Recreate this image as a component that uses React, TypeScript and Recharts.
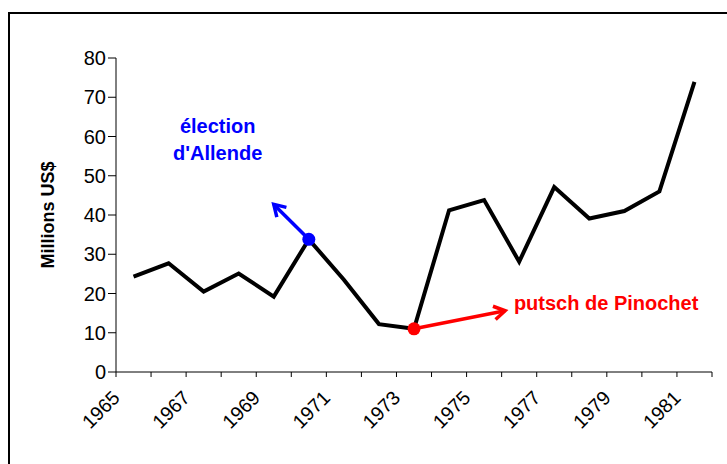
import React from 'react'
import { LineChart, Line, XAxis, YAxis, ReferenceDot, ReferenceLine } from 'recharts'

const years = [1965, 1966, 1967, 1968, 1969, 1970, 1971, 1972, 1973, 1974, 1975, 1976, 1977, 1978, 1979, 1980, 1981]
const aid = [24.3, 27.7, 20.5, 25.1, 19.2, 33.8, 23.5, 12.2, 11.0, 41.2, 43.8, 28.1, 47.1, 39.1, 41.0, 46.0, 73.9]
const yTicks = [0, 10, 20, 30, 40, 50, 60, 70, 80]
const labelYears = [1965, 1967, 1969, 1971, 1973, 1975, 1977, 1979, 1981]

const data = years.map((year, i) => ({ year, value: aid[i] }))
// Excel style: ticks sit between categories
const xTicks = years.map((y) => y - 0.5).concat(years[years.length - 1] + 0.5)

const FONT = '"Liberation Sans", Arial, sans-serif'
const BLUE = '#0000ff'
const RED = '#ff0000'

function YearTick({ x, y, payload }: any) {
  const year = payload.value + 0.5
  if (!labelYears.includes(year)) return null
  return (
    <text
      x={x + 5}
      y={y + 20}
      textAnchor="end"
      fontSize={19.5}
      fontFamily={FONT}
      fill="#000"
      transform={`rotate(-45 ${x + 5} ${y + 20})`}
    >
      {year}
    </text>
  )
}

function arrow(color: string) {
  return (p: any) => {
    const { x1, y1, x2, y2 } = p
    const a = Math.atan2(y2 - y1, x2 - x1)
    const len = 13
    const spread = 0.55
    const ax = x2 - len * Math.cos(a - spread)
    const ay = y2 - len * Math.sin(a - spread)
    const bx = x2 - len * Math.cos(a + spread)
    const by = y2 - len * Math.sin(a + spread)
    return (
      <g>
        <line x1={x1} y1={y1} x2={x2} y2={y2} stroke={color} strokeWidth={3.5} />
        <path d={`M${ax},${ay} L${x2},${y2} L${bx},${by}`} fill="none" stroke={color} strokeWidth={3.5} />
      </g>
    )
  }
}

function textShape(lines: string[], color: string, anchor: 'start' | 'middle') {
  return (p: any) => (
    <text x={p.cx} y={p.cy} textAnchor={anchor} fontSize={20} fontWeight="bold" fontFamily={FONT} fill={color}>
      {lines.map((l, i) => (
        <tspan key={i} x={p.cx} dy={i === 0 ? 0 : 27}>
          {l}
        </tspan>
      ))}
    </text>
  )
}

export default function App() {
  return (
    <div style={{ position: 'fixed', left: 0, top: 0, width: 727, height: 464, overflow: 'hidden', background: '#fff' }}>
      <div
        style={{
          position: 'absolute',
          left: 8,
          top: 12,
          width: 900,
          height: 700,
          border: '2px solid #000',
          boxSizing: 'border-box',
        }}
      />
      <div style={{ position: 'absolute', left: 0, top: 0 }}>
        <LineChart width={727} height={464} data={data} margin={{ top: 58, right: 15, bottom: 62, left: 56 }}>
          <XAxis
            dataKey="year"
            type="number"
            domain={[1964.5, 1981.5]}
            ticks={xTicks}
            interval={0}
            tickSize={5}
            height={30}
            stroke="#000"
            tick={<YearTick />}
          />
          <YAxis
            domain={[0, 80]}
            ticks={yTicks}
            interval={0}
            width={60}
            tickSize={8}
            stroke="#000"
            tick={{ fill: '#000', fontSize: 20, fontFamily: FONT }}
            label={({ viewBox }: any) => (
              <text
                x={viewBox.x - 2}
                y={viewBox.y + viewBox.height / 2}
                textAnchor="middle"
                fontSize={18}
                fontWeight="bold"
                fontFamily={FONT}
                fill="#000"
                transform={`rotate(-90 ${viewBox.x - 2} ${viewBox.y + viewBox.height / 2})`}
              >
                Millions US$
              </text>
            )}
          />
          <Line
            dataKey="value"
            stroke="#000"
            strokeWidth={4}
            dot={false}
            activeDot={false}
            isAnimationActive={false}
          />
          <ReferenceLine segment={[{ x: 1970, y: 33.8 }, { x: 1969, y: 42.7 }]} shape={arrow(BLUE)} />
          <ReferenceLine segment={[{ x: 1973, y: 11.0 }, { x: 1975.6, y: 15.6 }]} shape={arrow(RED)} />
          <ReferenceDot x={1970} y={33.8} r={6.5} fill={BLUE} stroke="none" />
          <ReferenceDot x={1973} y={11.0} r={6.5} fill={RED} stroke="none" />
          <ReferenceDot x={1967.4} y={61} r={0} shape={textShape(['élection', "d'Allende"], BLUE, 'middle')} />
          <ReferenceDot x={1975.85} y={15.8} r={0} shape={textShape(['putsch de Pinochet'], RED, 'start')} />
        </LineChart>
      </div>
    </div>
  )
}
